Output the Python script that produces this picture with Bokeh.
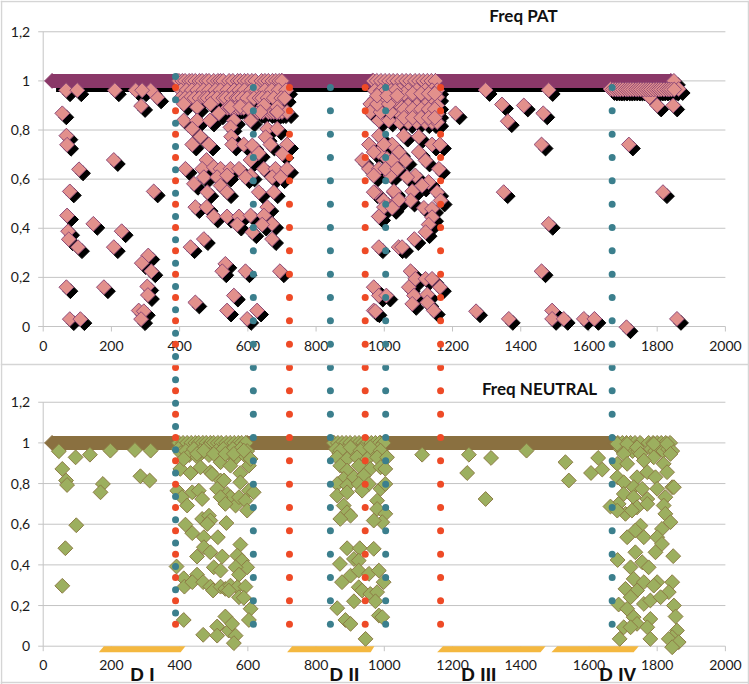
from bokeh.plotting import figure
from bokeh.models import Range1d, LinearScale, Span
from bokeh.core.properties import value
from bokeh.embed import file_html
from bokeh.resources import INLINE
import numpy as np

# ---------- tick values ----------
x_ticks = [0, 200, 400, 600, 800, 1000, 1200, 1400, 1600, 1800, 2000]
y_ticks = [0, 0.2, 0.4, 0.6, 0.8, 1, 1.2]
y_tick_labels = ["0", "0,2", "0,4", "0,6", "0,8", "1", "1,2"]

# ---------- Freq PAT ----------
pat_band_start = [26, 700, 1150]
pat_band_end = [392, 965, 1840]
pat_x = [56,68,70,105,207,78,324,70,147,73,75,102,230,207,308,289,317,68,178,305,307,280,295,287,78,109,287,334,
         67,100,210,271,315,290,
         398,408,416,428,436,446,458,466,478,486,500,512,520,528,545,556,570,578,590,600,612,622,640,650,660,672,682,692,700,
         404,420,436,452,470,486,505,520,540,560,575,590,610,625,650,670,690,712,
         402,416,430,444,458,474,482,496,510,528,536,552,566,572,584,598,618,634,642,658,676,698,708,
         540,548,556,564,572,580,588,630,644,660,668,676,684,692,700,
         412,451,490,515,549,578,603,647,686,715,637,412,451,489,559,608,686,437,549,657,686,461,551,652,437,486,554,588,613,632,666,715,701,608,479,
         417,466,500,520,549,574,608,647,681,715,442,471,510,539,593,671,696,520,539,481,632,676,446,479,500,539,574,608,657,647,569,613,671,642,
         432,471,671,534,525,593,694,446,559,539,627,598,
         968,978,990,1002,1014,1026,1038,1052,1064,1076,1090,1102,1114,1126,1138,1150,
         1045,1070,1095,1120,1140,1155,1045,1070,1095,1120,1140,1155,1045,1070,1095,1120,1140,1155,1045,1070,1095,1120,1140,1155,1045,1070,1095,1120,1140,1155,
         1058,1083,1108,1130,1148,1058,1083,1108,1130,1148,1058,1083,1108,1130,1148,
         972,990,1004,1020,1032,972,990,1004,1020,1032,
         935,984,955,1023,984,955,984,1008,1018,969,1028,974,998,1038,984,1023,984,1042,969,984,969,1006,959,984,1013,959,989,1018,979,1013,979,1008,1038,
         1057,1101,999,1140,1163,969,1043,1101,1062,1023,1121,1160,1003,1038,1091,1067,1130,1111,969,1028,1155,1082,1077,1165,1043,999,1023,1116,1140,984,1140,1130,1121,1088,1052,
         1077,1091,1121,1140,1072,1163,1087,1126,1082,1126,1145,974,
         1297,1482,1663,1345,1409,1466,1362,1847,1800,1778,1209,1461,1717,1350,1817,1482,1461,1269,1492,1365,1492,1526,1585,1616,1858,1710,1849,1863,
         1670,1678,1685,1692,1700,1708,1715,1722,1730,1738,1745,1752,1760,1768,1775,1782,1790,1798,1805,1812,1820,1828,1835,1842,1850]
pat_y = [.868,.777,.74,.64,.678,.55,.55,.452,.418,.388,.355,.323,.388,.323,.289,.258,.225,.16,.16,.163,.128,.065,.062,.03,.03,.03,.898,.933,
         .962,.962,.962,.962,.962,.962,
         1,1,1,1,1,1,1,1,1,1,1,1,1,1,1,1,1,1,1,1,1,1,1,1,1,1,1,1,1,
         .962,.962,.962,.962,.962,.962,.962,.962,.962,.962,.962,.962,.962,.962,.962,.962,.962,.962,
         .93,.93,.93,.93,.93,.93,.93,.93,.93,.93,.93,.93,.93,.93,.93,.93,.93,.93,.93,.93,.93,.93,.93,
         .89,.89,.89,.89,.89,.89,.89,.873,.873,.873,.873,.873,.873,.873,.873,
         .906,.893,.906,.868,.893,.896,.886,.9,.893,.873,.873,.839,.839,.839,.839,.839,.873,.805,.811,.805,.805,.773,.773,.771,.741,.741,.741,.741,.737,.706,.741,.741,.703,.678,.678,
         .642,.642,.649,.642,.642,.642,.615,.642,.642,.642,.581,.608,.608,.615,.608,.608,.608,.574,.547,.547,.547,.547,.486,.486,.448,.448,.448,.452,.486,.452,.415,.384,.418,.415,
         .323,.356,.356,.255,.225,.225,.225,.098,.126,.065,.065,.031,
         1,1,1,1,1,1,1,1,1,1,1,1,1,1,1,1,
         .962,.962,.962,.962,.962,.962,.934,.934,.934,.934,.934,.934,.9,.9,.9,.9,.9,.9,.866,.866,.866,.866,.866,.866,.832,.832,.832,.832,.832,.832,
         .948,.948,.948,.948,.948,.885,.885,.885,.885,.885,.85,.85,.85,.85,.85,
         .96,.96,.96,.96,.96,.925,.925,.925,.925,.925,
         .678,.777,.741,.741,.71,.642,.642,.683,.615,.615,.547,.547,.513,.513,.448,.486,.323,.323,.16,.126,.065,.126,.906,.839,.839,.873,.873,.873,.906,.906,.94,.94,.94,
         .777,.773,.741,.741,.741,.71,.71,.71,.676,.676,.676,.642,.642,.642,.615,.608,.588,.574,.547,.551,.547,.551,.513,.513,.516,.486,.483,.483,.479,.448,.445,.415,.384,.356,.323,
         .225,.194,.194,.194,.16,.16,.126,.13,.092,.098,.065,.062,
         .963,.963,.967,.904,.9,.868,.836,.9,.9,.934,.868,.741,.741,.547,.547,.418,.225,.062,.065,.031,.031,.031,.031,.031,.031,-.003,1,.967,
         .965,.965,.965,.965,.965,.965,.965,.965,.965,.965,.965,.965,.965,.965,.965,.965,.965,.965,.965,.965,.965,.965,.965,.965,.965]

# ---------- Freq NEUTRAL ----------
neu_band_start = [26, 598, 989]
neu_band_end = [392, 852, 1675]
neu_x = [46,56,67,70,95,137,197,175,168,97,65,56,269,285,312,315,
         398,410,422,434,446,456,468,478,490,500,512,522,536,548,560,572,582,594,
         852,864,876,888,900,914,926,938,950,962,974,986,998,
         1685,1698,1710,1722,1735,1750,1775,1788,1800,1812,1825,1838,
         396,404,418,428,442,452,462,476,486,508,528,542,556,566,578,590,598,
         858,868,882,896,908,918,932,944,956,968,982,994,
         1692,1704,1716,1728,1744,1782,1794,1806,1818,1832,1844,
         402,432,461,490,520,549,578,603,608,412,451,471,500,534,559,588,393,407,422,437,456,466,520,495,510,530,539,549,564,574,603,617,593,598,578,520,534,
         466,486,490,481,537,417,437,471,512,578,471,490,451,525,500,520,569,583,598,564,574,
         391,412,414,451,437,469,490,498,520,534,549,569,574,593,588,544,412,469,510,534,544,554,510,564,559,608,603,
         871,901,930,959,989,862,891,920,950,979,1008,871,891,925,959,989,1003,881,911,940,862,891,925,955,989,1003,862,891,935,979,881,891,901,871,979,1003,994,969,
         891,928,969,911,925,870,876,901,925,955,984,925,935,959,979,998,911,974,862,886,901,945,984,994,
         1111,1248,1313,1243,1297,1417,1531,1627,1606,1639,1541,
         1683,1712,1741,1790,1829,1702,1751,1790,1839,1683,1712,1761,1819,1771,1829,1683,1702,1741,1795,1731,1756,1800,1844,1702,1731,1771,1824,1849,1687,1663,1741,1771,1819,1707,1683,1726,1824,1839,
         1751,1736,1814,1712,1761,1800,1814,1795,1736,1847,1684,1756,1722,1775,1731,1761,1800,1844,1707,1741,1790,1834,1722,1687,1761,1780,1810,1849,1712,1731,1854,1780,1702,1741,1771,1722,1690,1780,1858,1844,1834,1863,1844]
neu_y = [.959,.872,.815,.793,.929,.942,.962,.798,.757,.595,.482,.297,.965,.836,.815,.962,
         1,1,1,1,1,1,1,1,1,1,1,1,1,1,1,1,1,1,
         1,1,1,1,1,1,1,1,1,1,1,1,1,
         1,1,1,1,1,1,1,1,1,1,1,1,
         .97,.95,.96,.94,.97,.93,.96,.97,.94,.96,.97,.95,.97,.93,.97,.94,.96,
         .97,.95,.96,.95,.97,.95,.97,.95,.97,.95,.97,.95,
         .97,.96,.97,.96,.96,.97,.96,.97,.96,.97,.96,
         .872,.852,.88,.856,.905,.888,.851,.888,.921,.921,.946,.962,.946,.946,.946,.962,.765,.733,.692,.757,.765,.724,.815,.847,.774,.815,.749,.733,.692,.733,.765,.757,.716,.667,.806,.733,.7,
         .626,.642,.618,.601,.606,.598,.556,.536,.536,.5,.487,.462,.441,.441,.388,.372,.446,.421,.388,.388,.352,
         .392,.334,.293,.352,.315,.315,.293,.274,.293,.282,.298,.29,.241,.293,.238,.274,.129,.056,.097,.146,.077,.11,.052,.052,.015,.184,.129,
         .962,.978,.962,.978,.962,.929,.921,.929,.921,.929,.929,.888,.864,.888,.872,.88,.872,.823,.831,.839,.798,.79,.798,.798,.774,.798,.741,.757,.765,.716,.692,.659,.642,.626,.675,.651,.61,.618,
         .482,.482,.479,.429,.421,.405,.315,.347,.372,.356,.372,.29,.274,.257,.266,.315,.221,.221,.187,.129,.11,.036,.151,.143,
         .942,.942,.926,.852,.724,.962,.905,.926,.852,.869,.815,
         .995,.995,.978,.995,.995,.946,.946,.929,.946,.897,.897,.913,.897,.856,.856,.831,.806,.831,.831,.782,.774,.774,.782,.749,.733,.724,.733,.782,.7,.687,.683,.7,.692,.651,.667,.667,.651,.61,
         .593,.569,.577,.536,.536,.536,.503,.462,.462,.443,.424,.413,.388,.388,.331,.315,.315,.315,.282,.274,.298,.266,.241,.205,.208,.225,.241,.2,.184,.143,.146,.134,.093,.11,.093,.093,.036,.036,.077,.044,.036,.02,-.005]

# ---------- domain bars along the lower axis ----------
domain_names = ["D I", "D II", "D III", "D IV"]
domain_label_x = [291, 883, 1277, 1684]
domain_bot_start = [163, 715, 1155, 1490]
domain_bot_end = [403, 960, 1458, 1731]
domain_top_start = [178, 730, 1172, 1507]
domain_top_end = [417, 971, 1473, 1746]
domain_thickness = 0.03

# ---------- dotted vertical guides (values on the upper chart's y scale) ----------
red_x = [388, 722, 944, 1165]
blue_x = [616, 842, 1004, 1668]
blue_offset_x = [388]
guide_y = [.973,.878,.783,.688,.593,.498,.403,.308,.213,.118,.023,-.072,-.167,-.262,-.357,-.452,-.547,-.642,-.737,-.832,-.927,-1.022,-1.117,-1.212]
guide_offset_y = [1.018,.923,.828,.733,.638,.543,.448,.353,.258,.163,.068,-.027,-.122,-.217,-.312,-.407,-.502,-.597,-.692,-.787,-.882,-.977,-1.072,-1.167]

# ---------- layout ----------
W, H = 749, 684
PX_X = 0.3411      # px per x unit
PX_T = 245.6       # px per unit, upper chart
PX_B = 203.3       # px per unit, lower chart
x0 = -42.7 / PX_X
x1 = x0 + W / PX_X
t1 = 326 / PX_T
t0 = t1 - H / PX_T
b1 = 645.7 / PX_B
b0 = b1 - H / PX_B

p = figure(width=W, height=H, x_range=Range1d(x0, x1), y_range=Range1d(t0, t1),
           x_axis_type=None, y_axis_type=None, output_backend="svg", toolbar_location=None,
           min_border=0, outline_line_color=None, background_fill_color="white", border_fill_color="white")
p.grid.visible = False
p.extra_y_ranges = {"bot": Range1d(b0, b1)}
p.extra_y_scales = {"bot": LinearScale()}

GRID = "#C4C4C4"
FONT = value("Lato")
TICK_PX = 5

# panel frames of the composed figure
for loc in [(326 - 364) / PX_T, (326 - 1) / PX_T, (326 - 682) / PX_T]:
    p.add_layout(Span(location=loc, dimension="width", line_color="#D5D5D5", line_width=1.5))
for loc in [(1 - 42.7) / PX_X, (748 - 42.7) / PX_X]:
    p.add_layout(Span(location=loc, dimension="height", line_color="#D5D5D5", line_width=1.5))

for rng in ("default", "bot"):
    px = PX_T if rng == "default" else PX_B
    p.segment([-TICK_PX / PX_X] * len(y_ticks), y_ticks, [2000] * len(y_ticks), y_ticks,
              line_color=GRID, line_width=1, y_range_name=rng)
    p.segment([0], [0], [0], [1.2], line_color=GRID, line_width=1, y_range_name=rng)
    p.segment(x_ticks, [0] * len(x_ticks), x_ticks, [-TICK_PX / px] * len(x_ticks),
              line_color=GRID, line_width=1, y_range_name=rng)
    p.text([0] * len(y_ticks), y_ticks, text=y_tick_labels, x_offset=-13, text_align="right", text_baseline="middle",
           text_font=FONT, text_font_size="14px", text_color="#1a1a1a", y_range_name=rng)
    p.text(x_ticks, [0] * len(x_ticks), text=[str(v) for v in x_ticks], y_offset=19, text_align="center",
           text_baseline="middle", text_font=FONT, text_font_size="14px", text_color="#1a1a1a", y_range_name=rng)

# domain bars
p.patches([[a, b, d, c] for a, b, c, d in zip(domain_bot_start, domain_bot_end, domain_top_start, domain_top_end)],
          [[-domain_thickness, -domain_thickness, 0, 0] for _ in domain_names],
          fill_color="#F4B840", line_color=None, y_range_name="bot")

MARK = 10.5
ANG = np.pi / 4
SH_X, SH_Y = 4 / PX_X, 4 / PX_T

# PAT series: shadow, dense band, diamonds
n = len(pat_band_start)
p.segment(np.array(pat_band_start) + SH_X, [1 - SH_Y] * n, np.array(pat_band_end) + SH_X, [1 - SH_Y] * n,
          line_color="black", line_width=14)
p.scatter(np.array(pat_x) + SH_X, np.array(pat_y) - SH_Y, marker="square", size=MARK, angle=ANG,
          fill_color="black", line_color="black", line_width=1)
p.segment(pat_band_start, [1] * n, pat_band_end, [1] * n, line_color="#8A3868", line_width=14)
p.scatter(pat_band_start + pat_band_end, [1] * (2 * n), marker="square", size=MARK, angle=ANG,
          fill_color="#8A3868", line_color="#8A3868")
p.scatter(pat_x, pat_y, marker="square", size=MARK, angle=ANG,
          fill_color="#E2908C", line_color="#8F4A78", line_width=1)

# NEUTRAL series
n = len(neu_band_start)
p.segment(neu_band_start, [1] * n, neu_band_end, [1] * n, line_color="#8A7040", line_width=14, y_range_name="bot")
p.scatter(neu_band_start + neu_band_end, [1] * (2 * n), marker="square", size=MARK, angle=ANG,
          fill_color="#8A7040", line_color="#8A7040", y_range_name="bot")
p.scatter(neu_x, neu_y, marker="square", size=MARK, angle=ANG,
          fill_color="#9CAF5F", line_color="#8D7C45", line_width=1, y_range_name="bot")

# guide dots
RED, BLUE = "#EE4A26", "#3B7F8D"
for gx in red_x:
    p.scatter([gx] * len(guide_y), guide_y, marker="circle", size=7, fill_color=RED, line_color=None)
for gx in blue_x:
    p.scatter([gx] * len(guide_y), guide_y, marker="circle", size=7, fill_color=BLUE, line_color=None)
for gx in blue_offset_x:
    p.scatter([gx] * len(guide_offset_y), guide_offset_y, marker="circle", size=7, fill_color=BLUE, line_color=None)

# titles and domain labels
p.text([1408], [1.266], text=["Freq PAT"], text_align="center", text_baseline="middle",
       text_font=FONT, text_font_style="bold", text_font_size="17px", text_color="#111111")
p.text([1455], [1.268], text=["Freq NEUTRAL"], text_align="center", text_baseline="middle",
       text_font=FONT, text_font_style="bold", text_font_size="17px", text_color="#111111", y_range_name="bot")
p.text(domain_label_x, [-0.139] * 4, text=domain_names, text_align="center", text_baseline="middle",
       text_font=value("Liberation Sans"), text_font_style="bold", text_font_size="19px", text_color="#111111",
       y_range_name="bot")

open("out.html", "w").write(file_html(p, INLINE))
